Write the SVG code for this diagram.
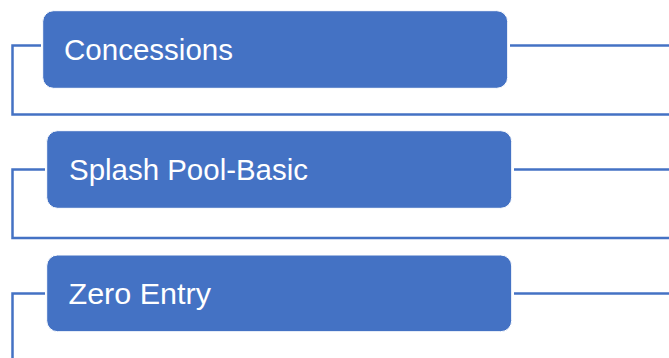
<svg xmlns="http://www.w3.org/2000/svg" width="669" height="358" viewBox="0 0 669 358">
<style>
.box{fill:#4472C4;stroke:#ffffff;stroke-width:1}
.lbl{font-family:"Liberation Sans",Arial,sans-serif;font-size:30px;fill:#ffffff}
.conn{fill:none;stroke:#4472C4;stroke-width:2.5}
</style>
<rect width="669" height="358" fill="#ffffff"/>
<g id="connectors">
<path class="conn" d="M41,45.5 H12.5 V114.5 H669"/>
<path class="conn" d="M510,45.5 H669"/>
<path class="conn" d="M45,169.5 H12.5 V238 H669"/>
<path class="conn" d="M514,169.5 H669"/>
<path class="conn" d="M45,293.5 H12.5 V358"/>
<path class="conn" d="M514,293.5 H669"/>
</g>
<g id="concessions">
<rect class="box" x="42.7" y="10.7" width="465" height="77.6" rx="11"/>
<text class="lbl" x="64" y="60" textLength="169" lengthAdjust="spacingAndGlyphs">Concessions</text>
</g>
<g id="splash-pool-basic">
<rect class="box" x="46.7" y="130.7" width="465" height="77.6" rx="11"/>
<text class="lbl" x="69" y="180" textLength="239" lengthAdjust="spacingAndGlyphs">Splash Pool-Basic</text>
</g>
<g id="zero-entry">
<rect class="box" x="46.7" y="255" width="465" height="76.7" rx="11"/>
<text class="lbl" x="68.5" y="304" textLength="142.5" lengthAdjust="spacingAndGlyphs">Zero Entry</text>
</g>
</svg>
